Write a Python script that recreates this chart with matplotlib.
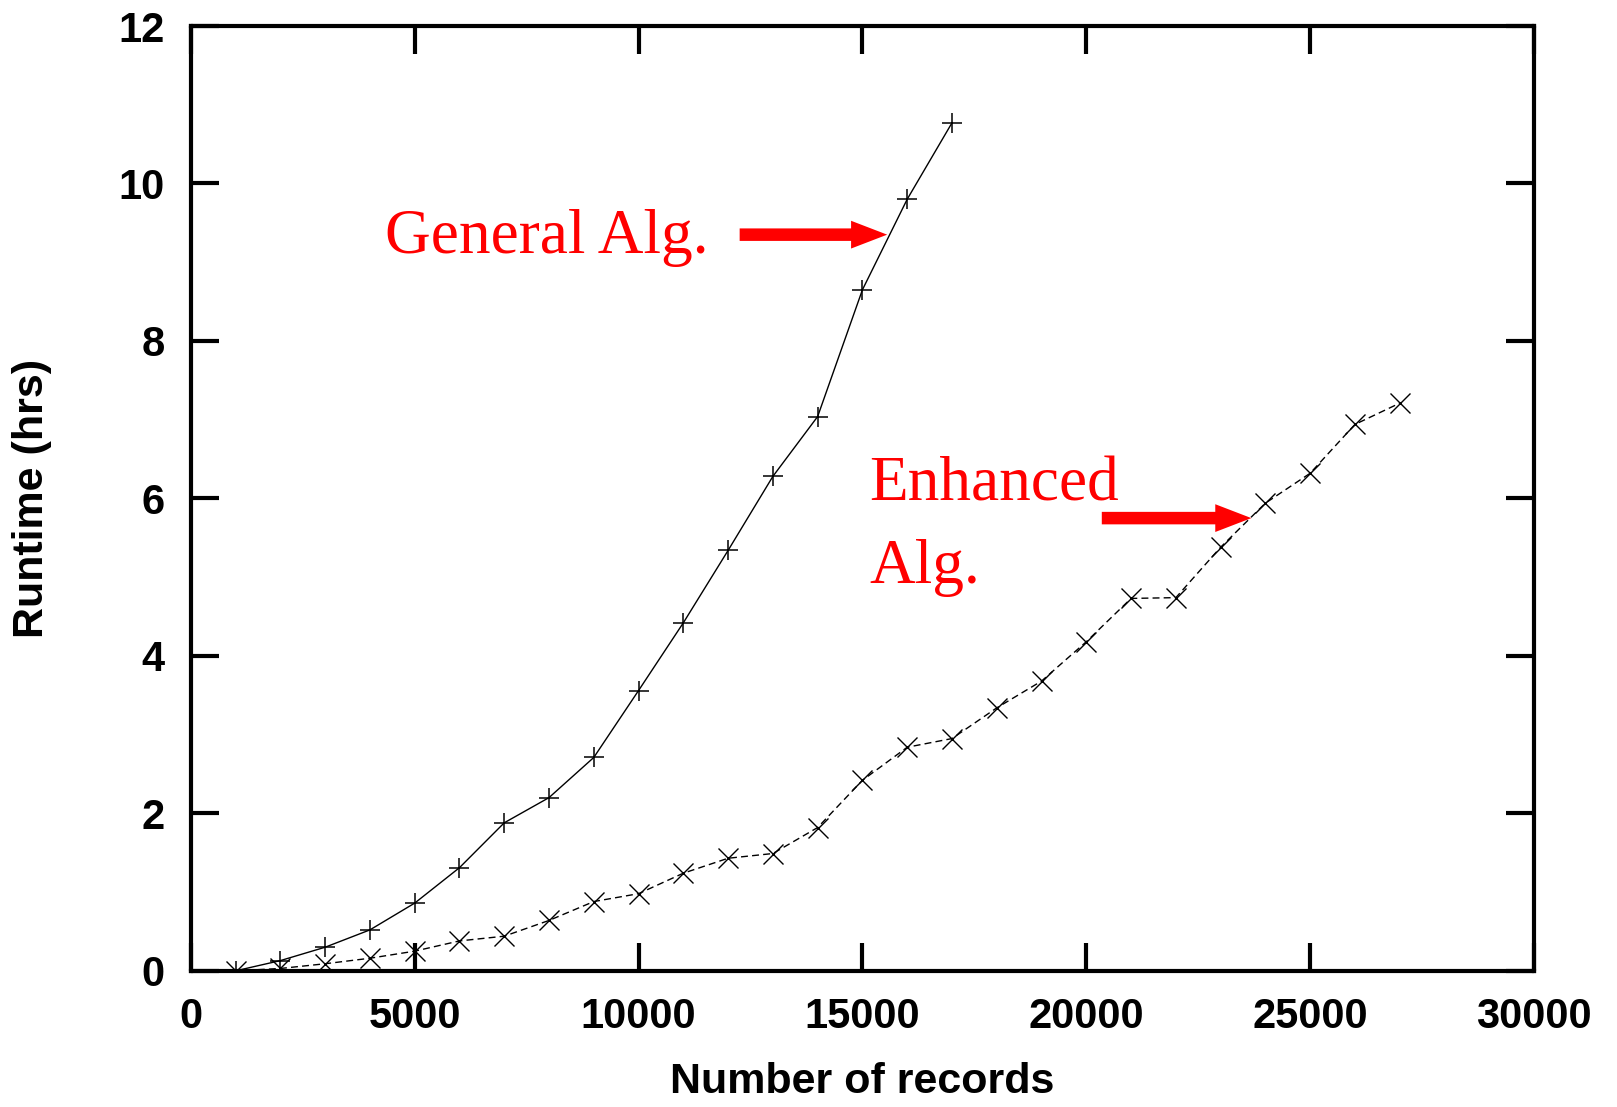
import matplotlib
matplotlib.use("Agg")
import matplotlib.pyplot as plt
from matplotlib.patches import FancyArrowPatch

records = [1000, 2000, 3000, 4000, 5000, 6000, 7000, 8000, 9000, 10000,
           11000, 12000, 13000, 14000, 15000, 16000, 17000, 18000, 19000,
           20000, 21000, 22000, 23000, 24000, 25000, 26000, 27000]
general = [0.0, 0.13, 0.30, 0.52, 0.86, 1.31, 1.88, 2.20, 2.71, 3.56,
           4.42, 5.34, 6.28, 7.04, 8.65, 9.80, 10.77]
enhanced = [0.0, 0.03, 0.09, 0.16, 0.25, 0.38, 0.44, 0.64, 0.88, 0.98,
            1.24, 1.43, 1.49, 1.82, 2.42, 2.84, 2.95, 3.34, 3.68, 4.18,
            4.73, 4.74, 5.38, 5.94, 6.32, 6.94, 7.21]
xticks = [0, 5000, 10000, 15000, 20000, 25000, 30000]
yticks = [0, 2, 4, 6, 8, 10, 12]

fig = plt.figure(figsize=(16.17, 11.07), dpi=100)
ax = fig.add_axes([0.118, 0.123, 0.8307, 0.8535])

ax.plot(records[:len(general)], general, color="black", lw=1.0,
        marker="+", markersize=14, markeredgewidth=1.1)
ax.plot(records, enhanced, color="black", lw=1.0, linestyle=(0, (5, 3)),
        marker="x", markersize=15, markeredgewidth=1.0)

ax.set_xlim(0, 30000)
ax.set_ylim(0, 12)
ax.set_xticks(xticks)
ax.set_yticks(yticks)
tickfont = dict(family="Liberation Sans", weight="bold", size=30)
ax.set_xticklabels([str(t) for t in xticks], **tickfont)
ax.set_yticklabels([str(t) for t in yticks], **tickfont)
ax.tick_params(direction="in", length=20, width=3, top=True, right=True,
               pad=19)
for s in ax.spines.values():
    s.set_linewidth(3)

ax.set_xlabel("Number of records", family="Liberation Sans", weight="bold", size=31)
ax.set_ylabel("Runtime (hrs)", family="Liberation Sans", weight="bold", size=31)
ax.xaxis.set_label_coords(0.5, -0.097)
ax.yaxis.set_label_coords(-0.103, 0.5)

red = "#ff0000"
serif = dict(family="Liberation Serif", size=45.5, color=red)
ax.text(4332, 9.12, "General Alg.", ha="left", va="baseline", **serif)
ax.text(15161, 5.98, "Enhanced", ha="left", va="baseline", **serif)
ax.text(15161, 4.93, "Alg.", ha="left", va="baseline", **serif)

style = "simple,head_length=1.3,head_width=1.0,tail_width=0.45"
for (x0, x1, y) in [(12258, 15553, 9.35), (20346, 23687, 5.75)]:
    ax.add_patch(FancyArrowPatch((x0, y), (x1, y), arrowstyle=style,
                                 mutation_scale=20, color=red, lw=0,
                                 shrinkA=0, shrinkB=0))

fig.savefig("out.png", dpi=100)
